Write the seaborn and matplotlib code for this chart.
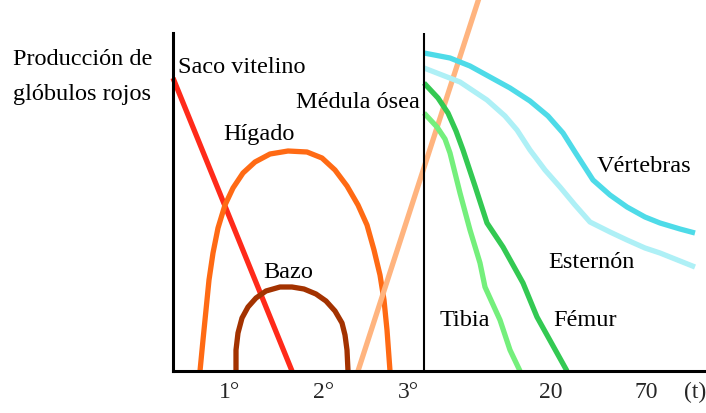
"""
Producción de glóbulos rojos: sitios de hematopoyesis a lo largo del tiempo.
"""
import matplotlib
matplotlib.use("Agg")
import matplotlib.pyplot as plt
import seaborn as sns

# picture units: x to the right, y = height above the time axis
SACO_X = [173, 292]
SACO_Y = [293, 0]

HIGADO_X = [200, 203, 206, 209, 213, 218, 225, 233, 243, 255, 270, 288, 307,
            322, 335, 347, 358, 367, 374, 380, 384, 387, 390]
HIGADO_Y = [0, 31, 61, 91, 118, 143, 166, 183, 198, 209, 217, 220, 219,
            213, 201, 185, 166, 146, 121, 96, 71, 41, 0]

BAZO_X = [236, 236, 238, 242, 248, 256, 266, 280, 292, 304, 316, 326, 335, 342, 345, 347, 348]
BAZO_Y = [0, 21, 38, 53, 64, 73, 80, 84, 84, 82, 77, 70, 60, 48, 36, 21, 0]

MEDULA_X = [358, 480]
MEDULA_Y = [0, 376]

VERTEBRAS_X = [424, 450, 470, 490, 510, 530, 548, 563, 575, 593, 610, 627, 645, 660, 680, 695]
VERTEBRAS_Y = [318, 313, 305, 294, 283, 270, 255, 238, 219, 191, 176, 164, 154, 148, 142, 138]

ESTERNON_X = [424, 460, 487, 505, 517, 530, 545, 560, 575, 590, 610, 627, 645, 660, 680, 695]
ESTERNON_Y = [303, 289, 271, 255, 241, 221, 201, 184, 166, 149, 139, 131, 123, 118, 110, 104]

FEMUR_X = [424, 438, 448, 456, 463, 475, 487, 503, 523, 537, 552, 567]
FEMUR_Y = [288, 273, 258, 240, 221, 185, 148, 124, 88, 54, 27, 0]

TIBIA_X = [424, 437, 445, 450, 460, 470, 480, 485, 500, 510, 520]
TIBIA_Y = [258, 244, 232, 218, 178, 141, 108, 84, 51, 21, 0]

TICK_POS = [230, 324, 408, 551, 646, 695]
TICK_LABELS = ["1°", "2°", "3°", "20", "70", "(t)"]

DIVIDER_X = 424
AXIS_LEFT = 173
AXIS_TOP = 338

SERIES = [
    (SACO_X, SACO_Y, "#ff2a1a"),
    (HIGADO_X, HIGADO_Y, "#ff6a14"),
    (BAZO_X, BAZO_Y, "#a33200"),
    (MEDULA_X, MEDULA_Y, "#ffb47f"),
    (VERTEBRAS_X, VERTEBRAS_Y, "#4edbe8"),
    (ESTERNON_X, ESTERNON_Y, "#aef0f6"),
    (FEMUR_X, FEMUR_Y, "#33c952"),
    (TIBIA_X, TIBIA_Y, "#74ef7c"),
]

LABELS = [
    ("Producción de", 13, 306),
    ("glóbulos rojos", 13, 271),
    ("Saco vitelino", 178, 298),
    ("Médula ósea", 296, 263),
    ("Hígado", 223, 231),
    ("Bazo", 263, 93),
    ("Vértebras", 597, 199),
    ("Esternón", 548, 103),
    ("Tibia", 440, 45),
    ("Fémur", 553, 45),
]

sns.set_theme(style="white")
plt.rcParams["font.family"] = ["Liberation Serif", "DejaVu Serif"]

fig = plt.figure(figsize=(7.06, 4.13), dpi=100)
ax = fig.add_axes([0, 0, 1, 1])

for xs, ys, color in SERIES:
    sns.lineplot(x=xs, y=ys, sort=False, estimator=None, color=color,
                 linewidth=3.8, ax=ax, solid_joinstyle="round", solid_capstyle="butt")

ax.vlines(DIVIDER_X, 0, AXIS_TOP, color="black", linewidth=1.5)

for text, x, y in LABELS:
    ax.text(x, y, text, fontsize=17.5, ha="left", va="baseline", color="black")

ax.set_xlim(0, 706)
ax.set_ylim(-42, 371)

for side in ["top", "right"]:
    ax.spines[side].set_visible(False)
ax.spines["left"].set_position(("data", AXIS_LEFT))
ax.spines["left"].set_bounds(0, AXIS_TOP)
ax.spines["bottom"].set_position(("data", 0))
ax.spines["bottom"].set_bounds(AXIS_LEFT, 706)
for side in ["left", "bottom"]:
    ax.spines[side].set_color("black")
    ax.spines[side].set_linewidth(2.2)

ax.set_yticks([])
ax.set_xticks(TICK_POS)
ax.set_xticklabels(TICK_LABELS, fontsize=17)
ax.tick_params(axis="x", length=0, pad=8)

fig.savefig("out.png", dpi=100)
